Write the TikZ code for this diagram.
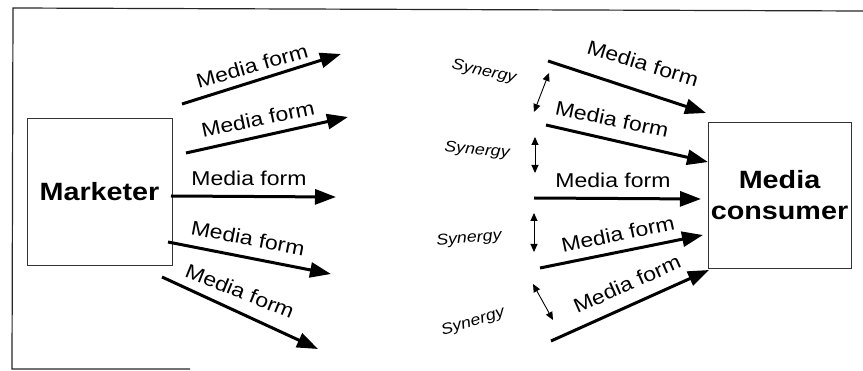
\documentclass[tikz,border=0pt]{standalone}
\usepackage{fontspec}
\setmainfont{Liberation Sans}
\newfontfamily\widesans[FakeStretch=1.15]{Liberation Sans}
\usetikzlibrary{arrows.meta}
\begin{document}
\begin{tikzpicture}[x=1pt,y=-1pt,
  party/.style={draw=black!80,line width=0.9pt,inner sep=0pt,
    font=\widesans\fontsize{25}{33}\selectfont\bfseries,align=center},
  flow/.style={line width=3pt,-{Triangle[length=21pt,width=15pt]}},
  formlabel/.style={inner sep=0pt,font=\widesans\fontsize{20}{24}\selectfont},
  synlabel/.style={inner sep=0pt,font=\widesans\fontsize{15.5}{18}\selectfont\itshape},
  synarrow/.style={line width=0.9pt,{Triangle[length=8pt,width=7pt]}-{Triangle[length=8pt,width=7pt]}},
  frame/.style={line width=1.2pt,black!85}]
\useasboundingbox (0,0) rectangle (863,371);

% outer frame
\coordinate (fb) at (12,369);
\coordinate (ftl) at (13,8);
\coordinate (ftr) at (863,11);
\coordinate (fbr) at (190,369);
\draw[frame] (fbr) -- (fb) -- (ftl) -- (ftr);

% the two parties
\node[party,minimum width=145,minimum height=147] (mk) at (99.5,191.5) {Marketer};
\node[party,minimum width=143,minimum height=146] (mc) at (779.5,195)
  {Media\\[-2pt]consumer};

% outgoing media forms
\coordinate (a1s) at (182,104); \coordinate (a1e) at (341,54);
\coordinate (a2s) at (186,153); \coordinate (a2e) at (348,117);
\coordinate (a3s) at (171,196); \coordinate (a3e) at (336,197);
\coordinate (a4s) at (168,242); \coordinate (a4e) at (331,274);
\coordinate (a5s) at (162,277); \coordinate (a5e) at (318,349);
\draw[flow] (a1s) -- (a1e);
\draw[flow] (a2s) -- (a2e);
\draw[flow] (a3s) -- (a3e);
\draw[flow] (a4s) -- (a4e);
\draw[flow] (a5s) -- (a5e);
\node[formlabel,rotate=16] (l1) at (252,66) {Media form};
\node[formlabel,rotate=12] (l2) at (258,119) {Media form};
\node[formlabel] (l3) at (249,178) {Media form};
\node[formlabel,rotate=-11] (l4) at (248,238) {Media form};
\node[formlabel,rotate=-22] (l5) at (240,291) {Media form};

% incoming media forms
\coordinate (b1s) at (548,61);  \coordinate (b1e) at (706,113);
\coordinate (b2s) at (546,125); \coordinate (b2e) at (708,162);
\coordinate (b3s) at (534,198); \coordinate (b3e) at (701,199);
\coordinate (b4s) at (540,268); \coordinate (b4e) at (703,235);
\coordinate (b5s) at (551,341); \coordinate (b5e) at (709,270);
\draw[flow] (b1s) -- (b1e);
\draw[flow] (b2s) -- (b2e);
\draw[flow] (b3s) -- (b3e);
\draw[flow] (b4s) -- (b4e);
\draw[flow] (b5s) -- (b5e);
\node[formlabel,rotate=-17] (r1) at (643,63) {Media form};
\node[formlabel,rotate=-12] (r2) at (612,119) {Media form};
\node[formlabel] (r3) at (613,180) {Media form};
\node[formlabel,rotate=12] (r4) at (618,234) {Media form};
\node[formlabel,rotate=24] (r5) at (627,284) {Media form};

% synergy between neighbouring forms
\coordinate (s1a) at (549,73);  \coordinate (s1b) at (534,112);
\coordinate (s2a) at (535,137); \coordinate (s2b) at (535,173);
\coordinate (s3a) at (534,213); \coordinate (s3b) at (534,252);
\coordinate (s4a) at (533,284); \coordinate (s4b) at (553,320);
\draw[synarrow] (s1a) -- (s1b);
\draw[synarrow] (s2a) -- (s2b);
\draw[synarrow] (s3a) -- (s3b);
\draw[synarrow] (s4a) -- (s4b);
\node[synlabel,rotate=-12] (y1) at (484,72) {Synergy};
\node[synlabel,rotate=-5] (y2) at (477,151) {Synergy};
\node[synlabel,rotate=5] (y3) at (469,239) {Synergy};
\node[synlabel,rotate=17] (y4) at (473,322) {Synergy};
\end{tikzpicture}
\end{document}
